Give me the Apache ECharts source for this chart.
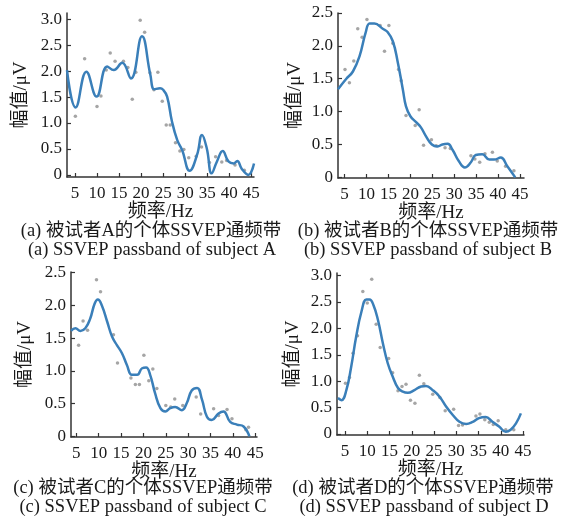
<!DOCTYPE html>
<html><head><meta charset="utf-8">
<script src="https://cdn.jsdelivr.net/npm/echarts@6/dist/echarts.min.js"></script>
<style>html,body{margin:0;padding:0;background:#fff}#c{width:576px;height:523px}</style>
</head><body><div id="c"></div>
<script>
// ---- data (Hz, amplitude µV) ----
const xTicks = [5, 10, 15, 20, 25, 30, 35, 40, 45];
const yTicks30 = [0, 0.5, 1.0, 1.5, 2.0, 2.5, 3.0];
const yTicks25 = [0, 0.5, 1.0, 1.5, 2.0, 2.5];

const curveA = [[3.2,2.02],[5.15,1.30],[7.6,1.99],[9.9,1.51],[12.3,2.09],[13.8,2.02],[15.7,2.16],[17.7,1.86],[20.2,2.67],[22.1,1.93],[23.0,1.65],[24.3,1.67],[25.0,1.64],[25.9,1.51],[27.0,1.03],[28.2,0.67],[29.3,0.48],[31.0,0.08],[32.7,0.39],[33.8,0.77],[34.9,0.51],[36.0,0.03],[37.2,0.26],[38.5,0.46],[39.8,0.26],[41.0,0.22],[41.8,0.27],[42.8,0.12],[44.3,0.0],[45.6,0.22]];
const pointsA = [[5.1,1.13],[7.2,2.24],[10.0,1.32],[10.9,1.52],[12.1,2.02],[13.0,2.35],[14.1,2.19],[16.0,2.19],[17.0,2.07],[18.0,1.46],[18.8,1.98],[19.8,2.98],[20.8,2.75],[22.0,1.97],[22.9,1.64],[23.8,1.98],[24.8,1.42],[25.7,0.96],[26.6,0.96],[27.8,0.62],[28.8,0.46],[29.7,0.49],[30.8,0.33],[32.5,0.36],[33.7,0.54],[35.5,0.24],[36.9,0.35],[38.3,0.25],[39.4,0.28],[41.3,0.19],[43.4,0.09]];

const curveB = [[3.5,1.34],[5.4,1.50],[6.9,1.61],[8.4,1.84],[9.8,2.20],[10.7,2.34],[11.8,2.34],[13.7,2.26],[14.8,2.21],[16.0,2.07],[17.1,1.76],[18.3,1.33],[19.0,1.08],[20.0,0.93],[21.3,0.84],[22.4,0.76],[23.6,0.62],[24.9,0.50],[26.2,0.47],[27.3,0.50],[28.5,0.51],[29.6,0.42],[31.1,0.24],[32.4,0.15],[33.8,0.23],[34.9,0.34],[36.4,0.35],[38.0,0.27],[39.1,0.27],[40.6,0.30],[42.1,0.17],[43.9,0.0]];
const pointsB = [[5.1,1.64],[6.1,1.44],[7.1,1.77],[8.0,2.26],[9.0,2.13],[10.1,2.40],[13.1,2.31],[14.1,1.92],[15.1,2.31],[16.0,2.04],[17.3,1.64],[17.9,1.47],[19.0,0.94],[21.1,0.79],[22.0,1.03],[23.0,0.49],[24.8,0.57],[25.9,0.48],[27.9,0.45],[29.1,0.44],[33.8,0.33],[34.7,0.28],[35.8,0.23],[37.0,0.36],[38.7,0.38],[39.8,0.25],[41.7,0.17],[43.6,0.10]];

const curveC = [[3.8,1.61],[4.8,1.65],[5.9,1.61],[7.0,1.65],[8.1,1.80],[9.1,2.03],[9.8,2.09],[10.7,2.00],[11.9,1.75],[13.0,1.52],[14.1,1.39],[15.2,1.27],[16.3,1.09],[17.4,0.94],[18.6,0.94],[19.7,1.04],[20.6,1.05],[21.5,0.94],[22.6,0.66],[23.8,0.43],[24.9,0.38],[26.0,0.43],[27.1,0.45],[28.6,0.40],[29.7,0.51],[30.8,0.70],[32.0,0.74],[33.1,0.56],[34.2,0.30],[35.3,0.25],[36.8,0.35],[37.9,0.38],[39.4,0.22],[40.9,0.18],[42.4,0.15],[43.7,0.0]];
const pointsC = [[5.5,1.39],[6.5,1.76],[7.5,1.62],[9.5,2.39],[10.4,2.21],[13.3,1.55],[14.2,1.12],[17.2,0.89],[18.2,0.79],[19.1,0.79],[20.1,1.24],[21.2,0.85],[22.1,1.03],[23.0,0.73],[25.0,0.47],[26.1,0.45],[27.0,0.57],[28.8,0.47],[31.8,0.60],[32.8,0.34],[35.7,0.42],[36.8,0.32],[38.7,0.41],[39.8,0.27],[42.9,0.10],[43.5,0.14]];

const curveD = [[3.4,0.68],[4.2,0.64],[5.3,0.83],[6.4,1.28],[7.5,1.84],[8.7,2.32],[9.8,2.55],[10.5,2.55],[11.4,2.44],[12.4,2.16],[13.5,1.72],[14.6,1.34],[15.7,1.09],[16.9,0.87],[18.0,0.80],[19.1,0.78],[20.6,0.83],[22.1,0.90],[23.2,0.91],[24.7,0.83],[26.2,0.71],[27.7,0.52],[29.2,0.36],[30.7,0.23],[32.2,0.19],[33.7,0.23],[35.1,0.30],[36.6,0.32],[38.1,0.23],[39.6,0.14],[41.1,0.04],[42.2,0.08],[43.4,0.20],[44.5,0.39]];
const pointsD = [[5.1,0.96],[6.0,1.07],[6.8,1.53],[7.8,1.86],[9.0,2.70],[10.0,2.48],[11.0,2.93],[12.0,2.08],[12.9,1.64],[14.8,1.43],[15.7,1.16],[16.9,0.82],[17.8,0.90],[18.7,0.94],[19.7,0.64],[20.7,0.58],[21.7,1.11],[22.7,0.95],[24.7,0.75],[26.3,0.69],[27.5,0.44],[29.4,0.47],[30.5,0.16],[31.4,0.17],[34.4,0.34],[35.3,0.38],[36.4,0.27],[37.4,0.22],[38.3,0.18],[39.4,0.25],[41.1,0.08],[42.9,0.08]];

const xName = '频率/Hz';
const yName = '幅值/μV';
const captionsCN = ['(a) 被试者A的个体SSVEP通频带','(b) 被试者B的个体SSVEP通频带','(c) 被试者C的个体SSVEP通频带','(d) 被试者D的个体SSVEP通频带'];
const captionsEN = ['(a) SSVEP passband of subject A','(b) SSVEP passband of subject B','(c) SSVEP passband of subject C','(d) SSVEP passband of subject D'];

// ---- layout ----
const panels = [
  {grid:{left:67, top:13, width:187, height:164}, xmin:3.2, xmax:45.6, ymin:-0.04, ymax:3.12, yt:yTicks30, curve:curveA, pts:pointsA, yGap:46, xGap:33, cap:[151,231,152,250]},
  {grid:{left:338, top:13, width:186, height:165}, xmin:3.5, xmax:45.9, ymin:-0.01, ymax:2.5, yt:yTicks25, curve:curveB, pts:pointsB, yGap:43, xGap:32, cap:[428,231,428,250]},
  {grid:{left:71, top:272, width:186, height:165}, xmin:3.8, xmax:45.4, ymin:-0.01, ymax:2.51, yt:yTicks25, curve:curveC, pts:pointsC, yGap:46, xGap:29, cap:[143,488,143,507]},
  {grid:{left:337, top:273, width:187, height:162}, xmin:3.2, xmax:45.2, ymin:-0.02, ymax:3.05, yt:yTicks30, curve:curveD, pts:pointsD, yGap:44, xGap:31, cap:[423,488,424,507]}
];

const serif = "'Liberation Serif','DejaVu Serif',serif";
const cjk = "'Liberation Serif','Noto Sans CJK SC',serif";
const axisColor = '#333';

const option = {
  backgroundColor:'#fff',
  animation:false,
  grid: panels.map(p => Object.assign({containLabel:false}, p.grid)),
  xAxis: panels.map((p,i) => ({
    type:'value', gridIndex:i, min:p.xmin, max:p.xmax,
    name:xName, nameLocation:'middle', nameGap:p.xGap,
    nameTextStyle:{fontFamily:cjk, fontSize:19, color:'#1a1a1a', verticalAlign:'middle'},
    axisLine:{show:true, onZero:false, lineStyle:{color:axisColor, width:1.5}},
    axisTick:{show:true, inside:true, length:4, customValues:xTicks, lineStyle:{color:axisColor, width:1.2}},
    axisLabel:{customValues:xTicks, margin:8, fontFamily:serif, fontSize:17, color:'#1a1a1a'},
    splitLine:{show:false}
  })),
  yAxis: panels.map((p,i) => ({
    type:'value', gridIndex:i, min:p.ymin, max:p.ymax,
    name:yName, nameLocation:'middle', nameGap:p.yGap,
    nameTextStyle:{fontFamily:cjk, fontSize:19, color:'#1a1a1a', verticalAlign:'middle'},
    axisLine:{show:true, lineStyle:{color:axisColor, width:1.5}},
    axisTick:{show:true, inside:true, length:4, customValues:p.yt, lineStyle:{color:axisColor, width:1.2}},
    axisLabel:{customValues:p.yt, margin:5, fontFamily:serif, fontSize:17, color:'#1a1a1a',
      formatter: v => (Math.abs(v) < 1e-9 ? '0' : v.toFixed(1))},
    splitLine:{show:false}
  })),
  series: panels.flatMap((p,i) => [
    {type:'scatter', xAxisIndex:i, yAxisIndex:i, data:p.pts, symbol:'circle', symbolSize:3.5,
     itemStyle:{color:'#8f8f8f'}, z:2},
    {type:'line', xAxisIndex:i, yAxisIndex:i, data:p.curve, smooth:0.45, showSymbol:false,
     lineStyle:{color:'#3a7fb9', width:2.5}, z:3}
  ])
};

const g = [];
panels.forEach((p,i) => {
  g.push({type:'text', x:p.cap[0], y:p.cap[1], style:{text:captionsCN[i], align:'center', verticalAlign:'middle', font:"18.5px 'Liberation Serif','Noto Sans CJK SC',serif", fill:'#1a1a1a'}});
  g.push({type:'text', x:p.cap[2], y:p.cap[3], style:{text:captionsEN[i], align:'center', verticalAlign:'middle', font:"18.5px 'Liberation Serif','DejaVu Serif',serif", fill:'#1a1a1a'}});
});
option.graphic = g;

const chart = echarts.init(document.getElementById('c'), null, {renderer:'canvas'});
chart.setOption(option);
</script>
</body></html>
